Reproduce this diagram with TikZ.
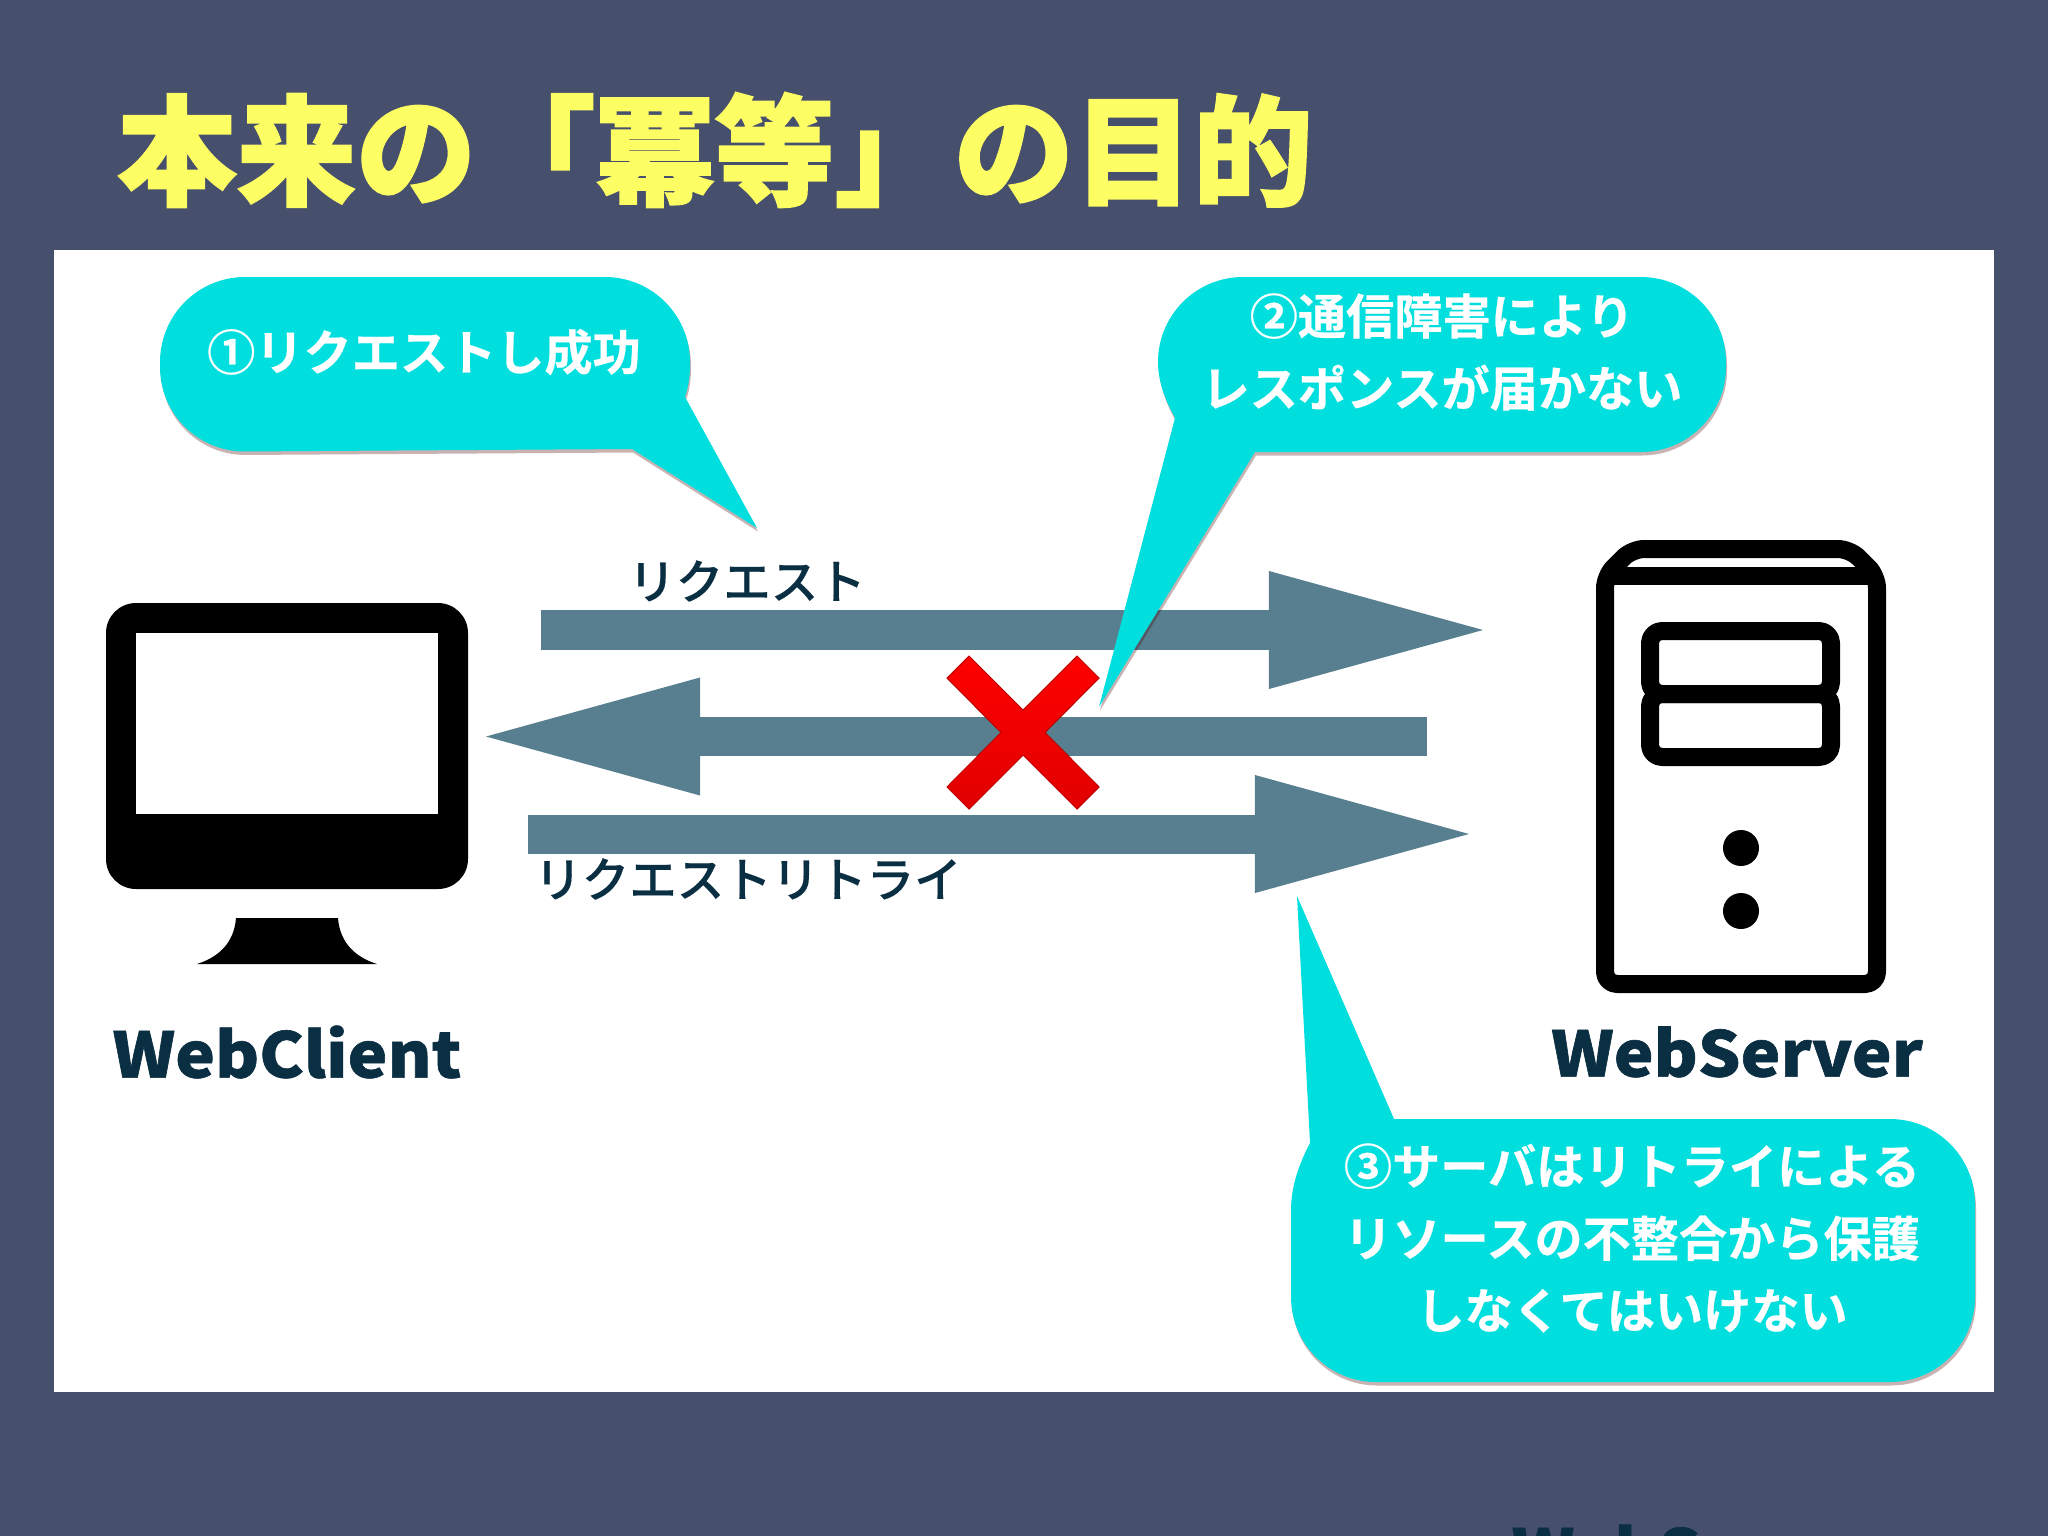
\documentclass[tikz,border=0pt]{standalone}
\usepackage{fontspec}
\usepackage{tikz}
\usetikzlibrary{arrows.meta,shadows}

\newfontfamily\jptitle[FakeBold=1.6]{Noto Sans CJK JP Black}
\newfontfamily\jphost[FakeBold=1.0,FakeStretch=1.07]{Noto Sans CJK JP Black}
\newfontfamily\jpbold[FakeBold=0.5]{Noto Sans CJK JP Bold}
\newfontfamily\jpmed[FakeBold=0.3]{Noto Sans CJK JP Medium}

\definecolor{slidebg}{RGB}{70,79,108}
\definecolor{titleyel}{RGB}{253,253,100}
\definecolor{bubblecol}{RGB}{0,222,222}
\definecolor{arrowcol}{RGB}{88,127,143}
\definecolor{inkcol}{RGB}{10,46,66}

\begin{document}
\begin{tikzpicture}
  [x=0.01cm,y=-0.01cm,
   bubble/.style={fill=bubblecol,drop shadow={shadow xshift=0.01cm,shadow yshift=-0.035cm,opacity=0.3,fill=black!70!red}},
   bubbletext/.style={text=white,align=center,font=\jpbold\fontsize{13.7}{20.5}\selectfont},
   hostlabel/.style={text=inkcol,font=\jphost\fontsize{17.8}{20}\selectfont},
   arrowlabel/.style={text=inkcol,font=\jpmed\fontsize{13.5}{16}\selectfont},
   fatarrow/.style={draw=arrowcol,line width=0.39cm,-{Triangle[length=2.14cm,width=1.18cm,line width=0pt]}},
   srvline/.style={draw=black,line width=0.18cm,line join=round}]
  \useasboundingbox (0,0) rectangle (2048,1536);
  \fill[slidebg] (0,0) rectangle (2048,1536);
  \fill[white] (54,250) rectangle (1994,1392);

  \node (title) at (715,150) {\jptitle\fontsize{34}{40}\selectfont\textcolor{titleyel}{本来の「冪等」の目的}};
  \begin{scope}
    \clip (0,0) rectangle (2048,1536);
    \node[hostlabel,anchor=west,inner sep=0pt] (cutlabel) at (1511,1550) {WebS};
  \end{scope}

  % monitor
  \fill[black,rounded corners=0.3cm] (106,603) rectangle (468,889);
  \fill[white] (136,633) rectangle (438,814);
  \fill[black] (236,918) -- (338,918) .. controls (340,945) and (358,958) .. (377,964)
    -- (197,964) .. controls (216,958) and (234,945) .. (236,918) -- cycle;
  \node[hostlabel] (client) at (287,1052) {WebClient};

  % server
  \draw[srvline,rounded corners=0.12cm] (1605,984) -- (1605,576) -- (1632,549) -- (1850,549) -- (1877,576) -- (1877,984) -- cycle;
  \draw[srvline] (1607,576) -- (1875,576);
  \draw[srvline,rounded corners=0.12cm] (1650,631) rectangle (1831,694);
  \draw[srvline,rounded corners=0.12cm] (1650,694) rectangle (1831,757);
  \fill[black] (1741,848) circle (18);
  \fill[black] (1741,911) circle (18);
  \node[hostlabel] (server) at (1737,1052) {WebServer};

  % arrows
  \coordinate (reqa) at (541,630);
  \coordinate (reqb) at (1483,630);
  \coordinate (resa) at (1427,736.5);
  \coordinate (resb) at (486,736.5);
  \coordinate (rtya) at (528,834);
  \coordinate (rtyb) at (1469,834);
  \draw[fatarrow] (reqa) -- (reqb);
  \draw[fatarrow] (resa) -- (resb);
  \draw[fatarrow] (rtya) -- (rtyb);
  \node[arrowlabel] (reqlabel) at (747,581) {リクエスト};
  \node[arrowlabel] (rtylabel) at (748,879) {リクエストリトライ};

  % cross
  \fill[top color=red,bottom color=red!88!black,draw=red!75!black,line width=0.3pt]
    (969,656) -- (1023,710) -- (1077,656) -- (1099,678) -- (1045,732.5) -- (1099,787) -- (1077,809)
    -- (1023,755) -- (969,809) -- (947,787) -- (1001,732.5) -- (947,678) -- cycle;

  % bubbles
  \path[bubble,rounded corners=0.85cm] (420,277) -- (690,277) [sharp corners] -- (690,365)
    .. controls (690,378) and (688,388) .. (685,397) -- (757,528) -- (632,449)
    [rounded corners=0.85cm] -- (160,452) -- (160,277) -- cycle;
  \node[bubbletext] (note1) at (424,352) {①リクエストし成功};

  \path[bubble,rounded corners=0.85cm] (1440,277) -- (1726,277) -- (1726,452) [sharp corners] -- (1255,452)
    -- (1099,707) -- (1175,418) .. controls (1164,398) and (1158,380) .. (1158,362)
    [rounded corners=0.85cm] -- (1158,277) -- cycle;
  \node[bubbletext] (note2) at (1442,352) {②通信障害により\\レスポンスが届かない};

  \path[bubble,rounded corners=0.85cm] (1640,1119) -- (1975,1119) -- (1975,1382) -- (1291,1382) [sharp corners] -- (1291,1210)
    .. controls (1291,1185) and (1300,1162) .. (1310,1143) -- (1297,896) -- (1394,1119) -- cycle;
  \node[bubbletext] (note3) at (1632,1238) {③サーバはリトライによる\\リソースの不整合から保護\\しなくてはいけない};
\end{tikzpicture}
\end{document}
